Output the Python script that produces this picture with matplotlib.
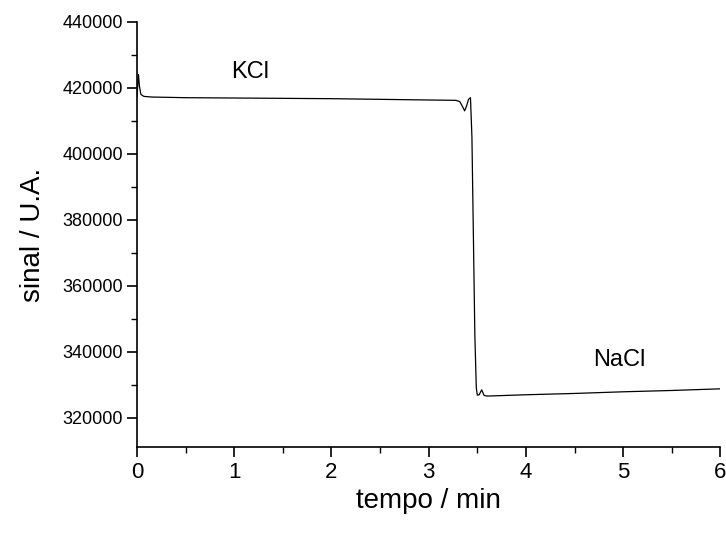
import matplotlib
matplotlib.use("Agg")
import matplotlib.pyplot as plt
from matplotlib.ticker import MultipleLocator

# signal (tempo in min, sinal in U.A.)
tempo = [0.0, 0.015, 0.025, 0.04, 0.07, 0.15, 0.5, 1.0, 1.5, 2.0, 2.5, 3.0, 3.28,
         3.32, 3.35, 3.37, 3.39, 3.41, 3.43, 3.445, 3.46, 3.475, 3.49, 3.50,
         3.52, 3.545, 3.57, 3.60, 4.0, 4.5, 5.0, 5.5, 6.0]
sinal = [417300, 424000, 420500, 418000, 417400, 417200, 417000, 416900, 416800,
         416700, 416500, 416300, 416200,
         415800, 414200, 413000, 414500, 416500, 417000, 405000, 375000, 345000,
         329000, 326800,
         326900, 328400, 326700, 326500, 326900, 327300, 327800, 328200, 328700]

labels = ["KCl", "NaCl"]
label_x = [1.16, 4.96]
label_y = [424800, 337500]

plt.rcParams["font.family"] = ["Liberation Sans", "DejaVu Sans"]

fig = plt.figure(figsize=(7.26, 5.33), dpi=100)
ax = fig.add_axes([0.1887, 0.161, 0.8035, 0.798])

ax.plot(tempo, sinal, color="black", linewidth=0.9)

for name, x, y in zip(labels, label_x, label_y):
    ax.text(x, y, name, fontsize=17, ha="center", va="center")

ax.set_xlim(0, 6)
ax.set_ylim(311000, 440000)

ax.xaxis.set_major_locator(MultipleLocator(1))
ax.xaxis.set_minor_locator(MultipleLocator(0.5))
ax.yaxis.set_major_locator(MultipleLocator(20000))
ax.yaxis.set_minor_locator(MultipleLocator(10000))

ax.spines["top"].set_visible(False)
ax.spines["right"].set_visible(False)
for s in ["left", "bottom"]:
    ax.spines[s].set_linewidth(1.2)

ax.tick_params(which="major", length=7, width=1.2, direction="out")
ax.tick_params(which="minor", length=4, width=1.0, direction="out")
ax.tick_params(axis="x", labelsize=16, pad=4)
ax.tick_params(axis="y", labelsize=13, pad=3)

ax.set_xlabel("tempo / min", fontsize=20, labelpad=3)
ax.set_ylabel("sinal / U.A.", fontsize=20, labelpad=12)

fig.savefig("out.png", dpi=100)
